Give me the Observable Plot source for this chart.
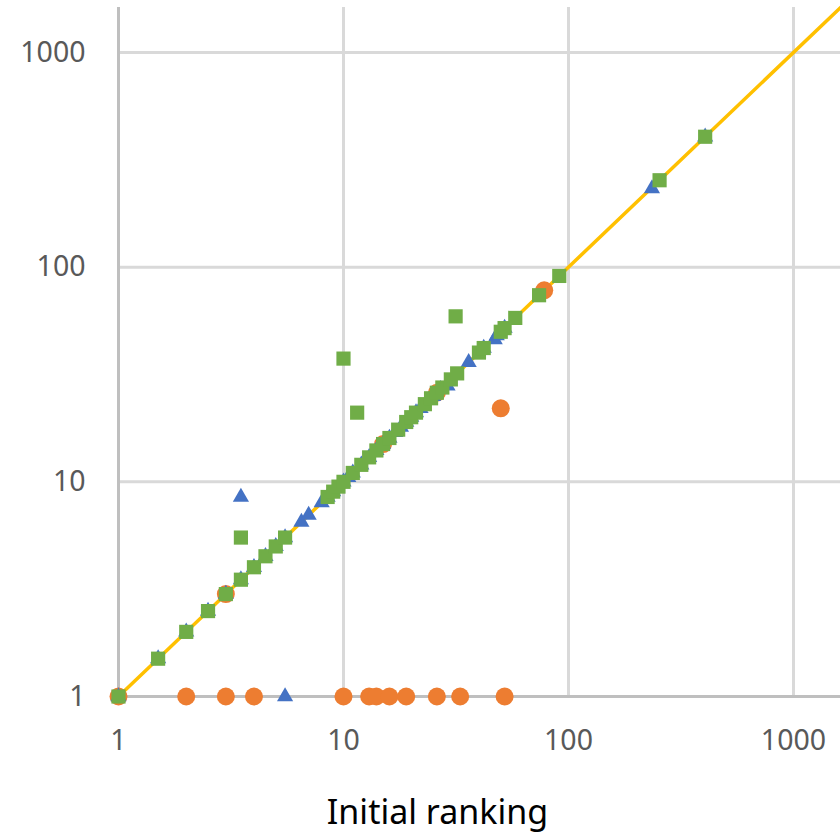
<!DOCTYPE html>
<html>
<head>
<meta charset="utf-8">
<script src="https://cdn.jsdelivr.net/npm/d3@7"></script>
<script src="https://cdn.jsdelivr.net/npm/@observablehq/plot@0.6"></script>
<style>
  html, body { margin: 0; padding: 0; background: #fff; }
</style>
</head>
<body>
<div id="chart"></div>
<script>
// Series values: [initial ranking, final ranking]
const seriesOrange = [
  [1,1],[2,1],[3,1],[4,1],[10,1],[13,1],[14,1],[16,1],[19,1],[26,1],[33,1],[52,1],
  [3,3],[15,15],[26,26],[50,22],[78,78]
];
const seriesBlue = [
  [1,1],[1.5,1.5],[2,2],[2.5,2.5],[3,3],[3.5,3.5],[4,4],[4.5,4.5],[5,5],[5.5,5.5],
  [5.5,1],[3.5,8.5],[6.5,6.5],[7,7],[8,8],[8.5,8.5],[9,9],[10,10],[10.5,10.5],[11,11],
  [12,12],[13,13],[14,14],[15,15],[16,16],[17,17],[18,18],[19,19],[20,20],[21,21],
  [22,22],[24,24],[25,25],[27,27],[29,28],[36,36],[42,42],[47,46],[48,48],[52,52],
  [235,232],[405,405]
];
const seriesGreen = [
  [1,1],[1.5,1.5],[2,2],[2.5,2.5],[3,3],[3.5,3.5],[4,4],[4.5,4.5],[5,5],[5.5,5.5],[3.5,5.5],
  [8.5,8.5],[9,9],[9.5,9.5],[10,10],[11,11],[12,12],[13,13],[14,14],[15,15],[16,16],
  [17.5,17.5],[19,19],[20,20],[21,21],[23,23],[24.5,24.5],[26,26],[27.5,27.5],[30,30],
  [32,32],[40,40],[42,42],[50,50],[52,52],[58,58],[74,74],[91,91],[254,254],[405,405],
  [10,37.5],[11.5,21],[31.5,59]
];
const diagonal = [[1,1],[1620,1620]];
const xTicks = [1, 10, 100, 1000];
const yTicks = [1, 10, 100, 1000];
const xDomain = [1, 1618];
const yDomain = [1, 1620];
const xTitle = "Initial ranking";

const chart = Plot.plot({
  width: 840,
  height: 834,
  marginLeft: 118,
  marginRight: 0,
  marginTop: 7,
  marginBottom: 138,
  style: { fontFamily: "'Noto Sans', 'Open Sans', sans-serif", background: "#fff" },
  x: { type: "log", domain: xDomain },
  y: { type: "log", domain: yDomain },
  marks: [
    Plot.ruleX(xTicks.filter(d => d !== 1), { stroke: "#d9d9d9", strokeWidth: 3 }),
    Plot.ruleY(yTicks.filter(d => d !== 1), { stroke: "#d9d9d9", strokeWidth: 3 }),
    Plot.ruleX([1], { stroke: "#bfbfbf", strokeWidth: 3 }),
    Plot.ruleY([1], { stroke: "#bfbfbf", strokeWidth: 3 }),
    Plot.axisX({ ticks: xTicks, tickSize: 0, tickPadding: 33, tickFormat: d => String(d), fontSize: 28.5, fill: "#595959", label: null }),
    Plot.axisY({ ticks: yTicks, tickSize: 0, tickPadding: 33, tickFormat: d => String(d), fontSize: 28.5, fill: "#595959", label: null }),
    Plot.line(diagonal, { x: d => d[0], y: d => d[1], stroke: "#FFC000", strokeWidth: 3.5 }),
    Plot.dot(seriesOrange, { x: d => d[0], y: d => d[1], symbol: "circle", r: 9, fill: "#ED7D31" }),
    Plot.dot(seriesBlue, { x: d => d[0], y: d => d[1], symbol: "triangle", r: 6, fill: "#4472C4" }),
    Plot.dot(seriesGreen, { x: d => d[0], y: d => d[1], symbol: "square", r: 8, fill: "#70AD47" }),
    Plot.text([xTitle], { frameAnchor: "bottom", lineAnchor: "top", dx: -42, dy: 103, fontSize: 34, fill: "#000", text: d => d })
  ]
});
document.getElementById("chart").appendChild(chart);
</script>
</body>
</html>
